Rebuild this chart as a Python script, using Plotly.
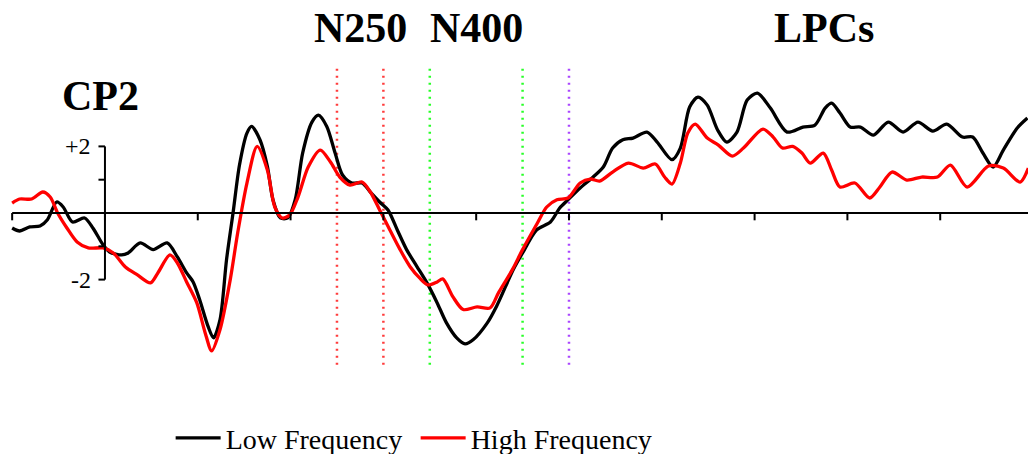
import plotly.graph_objects as go

# ---- data (time in ms, amplitude in microvolts) ----
low_t = [-100, -92, -81, -70, -62, -52, -45, -35, -22, -13, -2, 5, 18, 25, 38, 52, 67, 78,
         88, 95, 102, 111, 117, 124, 131, 138, 145, 153, 158, 167, 175, 181, 189, 197, 205,
         213, 223, 230, 239, 248, 256, 266, 277, 286, 296, 305, 315, 325, 336, 347, 358, 368,
         379, 388, 397, 412, 422, 440, 450, 465, 480, 490, 499, 512, 526, 537, 547, 558, 569,
         584, 595, 611, 620, 630, 639, 649, 660, 670, 681, 692, 703, 717, 735, 752, 765, 776,
         783, 792, 803, 814, 828, 844, 860, 876, 892, 907, 924, 935, 946, 957, 968, 983, 994]
low_v = [-0.45, -0.54, -0.42, -0.39, -0.2, 0.33, 0.18, -0.27, -0.15, -0.45, -0.96, -1.17, -1.26,
         -1.2, -0.9, -1.1, -0.9, -1.32, -1.8, -2.07, -2.6, -3.4, -3.75, -3.2, -1.4, 0.0, 1.45,
         2.4, 2.6, 2.2, 1.4, 0.4, -0.15, -0.15, 0.4, 1.8, 2.73, 2.94, 2.6, 1.8, 1.14, 0.9, 0.9,
         0.63, 0.33, 0.09, -0.51, -1.1, -1.6, -2.1, -2.7, -3.3, -3.75, -3.93, -3.8, -3.3, -2.8,
         -1.7, -1.2, -0.51, -0.27, 0.15, 0.4, 0.75, 1.08, 1.38, 1.95, 2.2, 2.25, 2.43, 2.13, 1.6,
         1.95, 3.18, 3.48, 3.24, 2.5, 2.13, 2.43, 3.39, 3.6, 3.15, 2.43, 2.58, 2.64, 3.15, 3.3,
         3.0, 2.58, 2.58, 2.34, 2.73, 2.43, 2.73, 2.46, 2.67, 2.28, 2.28, 1.8, 1.38, 1.89, 2.55,
         2.85]

high_t = [-100, -92, -79, -67, -59, -51, -41, -30, -18, -2, 9, 22, 35, 49, 57, 70, 78, 88, 99,
          108, 115, 124, 135, 143, 153, 164, 175, 183, 191, 199, 208, 219, 232, 243, 253, 264,
          277, 286, 296, 307, 318, 329, 339, 348, 358, 364, 375, 386, 401, 415, 424, 439, 450,
          466, 476, 487, 499, 512, 523, 533, 547, 564, 580, 593, 603, 611, 620, 628, 636, 649,
          661, 676, 688, 709, 720, 730, 741, 751, 760, 774, 783, 792, 808, 824, 835, 848, 864,
          880, 897, 911, 929, 952, 968, 986, 995]
high_v = [0.3, 0.42, 0.42, 0.63, 0.48, 0.0, -0.45, -0.87, -1.05, -1.05, -1.2, -1.62, -1.86,
          -2.1, -1.8, -1.26, -1.5, -2.07, -2.7, -3.6, -4.14, -3.5, -2.0, -0.6, 0.9, 2.0, 1.29,
          0.18, -0.15, -0.06, 0.48, 1.38, 1.89, 1.53, 1.08, 0.84, 0.93, 0.63, 0.09, -0.51, -1.1,
          -1.62, -1.95, -2.16, -2.07, -1.98, -2.52, -2.9, -2.82, -2.85, -2.4, -1.7, -1.1, -0.3,
          0.18, 0.4, 0.45, 0.9, 1.02, 0.96, 1.23, 1.5, 1.35, 1.47, 1.08, 0.87, 1.5, 2.4, 2.67,
          2.25, 2.04, 1.71, 1.95, 2.52, 2.28, 1.95, 2.0, 1.8, 1.5, 1.8, 1.29, 0.78, 0.9, 0.45,
          0.78, 1.23, 0.99, 1.08, 1.08, 1.44, 0.78, 1.41, 1.35, 0.93, 1.35]

x_ticks = [-100, 0, 100, 200, 300, 400, 500, 600, 700, 800, 900, 1000]
y_ticks = [-2, -1, 1, 2]
y_tick_labels = {2: "+2", -2: "-2"}

windows = [(250, "rgb(255,60,60)"), (300, "rgb(255,60,60)"),
           (350, "rgb(40,255,40)"), (450, "rgb(40,255,40)"),
           (500, "rgb(170,70,255)")]
components = [("N250", 275), ("N400", 400), ("LPCs", 775)]

SERIF = "Liberation Serif, Times New Roman, serif"

fig = go.Figure()

shapes = []
for t, c in windows:
    shapes.append(dict(type="line", xref="x", yref="y", x0=t, x1=t, y0=-4.56, y1=4.38,
                       line=dict(color=c, width=2.5, dash="2px,5px"), layer="below"))

# x axis line and ticks
shapes.append(dict(type="line", xref="x", yref="y", x0=x_ticks[0], x1=1100, y0=0, y1=0,
                   line=dict(color="black", width=2)))
for t in x_ticks:
    shapes.append(dict(type="line", xref="x", yref="y", x0=t, x1=t, y0=0, y1=-0.22,
                       line=dict(color="black", width=2)))
# y axis line and ticks
shapes.append(dict(type="line", xref="x", yref="y", x0=0, x1=0, y0=min(y_ticks), y1=max(y_ticks),
                   line=dict(color="black", width=2)))
for v in y_ticks:
    shapes.append(dict(type="line", xref="x", yref="y", x0=-7, x1=0, y0=v, y1=v,
                       line=dict(color="black", width=2)))

fig.add_trace(go.Scatter(x=low_t, y=low_v, mode="lines", name="Low Frequency",
                         line=dict(color="black", width=3.3, shape="spline", smoothing=0.8)))
fig.add_trace(go.Scatter(x=high_t, y=high_v, mode="lines", name="High Frequency",
                         line=dict(color="red", width=3.3, shape="spline", smoothing=0.8)))

annotations = []
for v, lab in y_tick_labels.items():
    annotations.append(dict(x=-13, y=v, xref="x", yref="y", text=lab, showarrow=False,
                            xanchor="right", yanchor="middle",
                            font=dict(family=SERIF, size=24, color="black")))
for lab, t in components:
    annotations.append(dict(x=t, y=1.0, xref="x", yref="paper", text="<b>%s</b>" % lab,
                            showarrow=False, xanchor="center", yanchor="top", yshift=-3,
                            font=dict(family=SERIF, size=42, color="black")))
annotations.append(dict(x=-5, y=3.5, xref="x", yref="y", text="<b>CP2</b>", showarrow=False,
                        xanchor="center", yanchor="middle",
                        font=dict(family=SERIF, size=42, color="black")))

fig.update_layout(
    width=1028, height=454,
    margin=dict(l=0, r=0, t=0, b=0, autoexpand=False),
    paper_bgcolor="white", plot_bgcolor="white",
    xaxis=dict(range=[-113.1, 994.6], visible=False, fixedrange=True),
    yaxis=dict(range=[-7.237, 6.396], visible=False, fixedrange=True),
    shapes=shapes, annotations=annotations,
    showlegend=True,
    legend=dict(orientation="h", x=0.166, y=0.035, xanchor="left", yanchor="middle",
                font=dict(family=SERIF, size=28, color="black"), itemwidth=45,
                entrywidth=185, bgcolor="rgba(0,0,0,0)"),
)

fig.write_html("out.html", config={"displayModeBar": False},
               post_script="document.body.style.margin='0';document.body.style.overflow='hidden';"
                           "document.documentElement.style.overflow='hidden';")
